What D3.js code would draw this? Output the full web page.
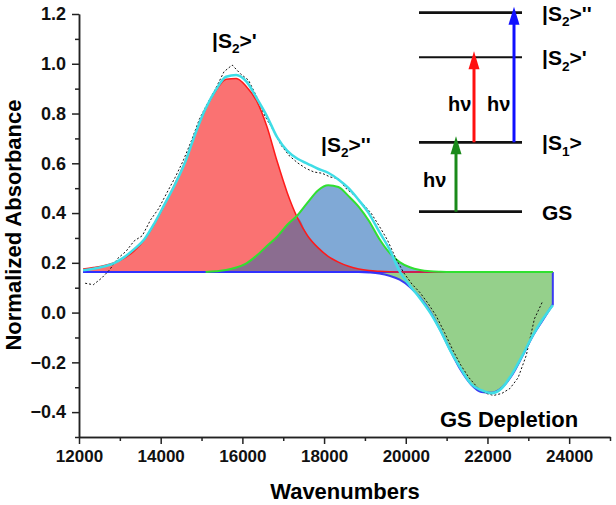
<!DOCTYPE html>
<html>
<head>
<meta charset="utf-8">
<script src="https://cdn.jsdelivr.net/npm/d3@7"></script>
<style>
  body { margin: 0; background: #fff; }
  text { font-family: 'Liberation Sans', Arial, sans-serif; font-weight: bold; }
</style>
</head>
<body>
<div id="chart"></div>
<script>
// fitted components, sampled every 250 cm-1 (values above the flat baseline)
const baseline = 0.163;
const fitWavenumbers = [
  12100, 12350, 12600, 12850, 13100, 13350, 13600, 13850, 14100, 14350, 14600, 14850,
  15100, 15350, 15600, 15850, 16100, 16350, 16600, 16850, 17100, 17350, 17600, 17850,
  18100, 18350, 18600, 18850, 19100, 19350, 19600, 19850, 20100, 20350, 20600, 20850,
  21100, 21350, 21600, 21850, 22100, 22350, 22600, 22850, 23100, 23350, 23600,
];
// |S2>' peak (red)
const peakS2a = [
  0.012, 0.018, 0.025, 0.036, 0.055, 0.085, 0.130, 0.195, 0.273, 0.355, 0.445, 0.558,
  0.655, 0.728, 0.775, 0.778, 0.745, 0.688, 0.585, 0.445, 0.318, 0.217, 0.145, 0.098,
  0.063, 0.040, 0.023, 0.012, 0.006, 0.003, 0.001, 0, 0, 0, 0, 0,
  0, 0, 0, 0, 0, 0, 0, 0, 0, 0, 0,
];
// |S2>'' peak (blue fill, green outline)
const peakS2b = [
  0, 0, 0, 0, 0, 0, 0, 0, 0, 0, 0, 0,
  0, 0.003, 0.008, 0.018, 0.035, 0.066, 0.105, 0.142, 0.190, 0.228, 0.280, 0.328,
  0.349, 0.342, 0.305, 0.262, 0.205, 0.134, 0.078, 0.040, 0.019, 0.008, 0.003, 0.001,
  0, 0, 0, 0, 0, 0, 0, 0, 0, 0, 0,
];
// ground state depletion (green fill, blue outline)
const gsDepletion = [
  0, 0, 0, 0, 0, 0, 0, 0, 0, 0, 0, 0,
  0, 0, 0, 0, 0, 0, 0, 0, 0, 0, 0, 0,
  0, 0, 0, 0, -0.002, -0.006, -0.015, -0.031, -0.060, -0.102, -0.160, -0.235,
  -0.318, -0.395, -0.452, -0.482, -0.485, -0.465, -0.415, -0.340, -0.260, -0.195, -0.130,
];
// cumulative fit (cyan)
const cumulativeFit = [
  0.170, 0.176, 0.185, 0.198, 0.222, 0.255, 0.295, 0.360, 0.437, 0.515, 0.605, 0.720,
  0.820, 0.895, 0.948, 0.955, 0.928, 0.862, 0.790, 0.705, 0.650, 0.618, 0.598, 0.578,
  0.562, 0.535, 0.500, 0.452, 0.398, 0.325, 0.255, 0.166, 0.108, 0.057, -0.001, -0.073,
  -0.156, -0.226, -0.287, -0.312, -0.324, -0.304, -0.247, -0.174, -0.095, -0.027, 0.030,
];

// measured spectrum, every 200 cm-1
const dataWavenumbers = [
  12150, 12350, 12550, 12750, 12950, 13150, 13350, 13550, 13750, 13950, 14150, 14350,
  14550, 14750, 14950, 15150, 15350, 15550, 15750, 15950, 16150, 16350, 16550, 16750,
  16950, 17150, 17350, 17550, 17750, 17950, 18150, 18350, 18550, 18750, 18950, 19150,
  19350, 19550, 19750, 19950, 20150, 20350, 20550, 20750, 20950, 21150, 21350, 21550,
  21750, 21950, 22150, 22350, 22550, 22750, 22950, 23150, 23350,
];
const dataAbsorbance = [
  0.118, 0.112, 0.138, 0.172, 0.218, 0.246, 0.288, 0.309, 0.372, 0.418, 0.481, 0.542,
  0.610, 0.690, 0.779, 0.842, 0.902, 0.968, 0.995, 0.960, 0.934, 0.868, 0.790, 0.735,
  0.672, 0.630, 0.602, 0.580, 0.565, 0.560, 0.545, 0.538, 0.497, 0.470, 0.437, 0.400,
  0.348, 0.292, 0.220, 0.160, 0.115, 0.080, 0.036, -0.015, -0.080, -0.150, -0.212, -0.262,
  -0.300, -0.324, -0.333, -0.325, -0.305, -0.262, -0.172, -0.025, 0.045,
];

const xMajorTicks = [12000, 14000, 16000, 18000, 20000, 22000, 24000];
const xMinorTicks = [13000, 15000, 17000, 19000, 21000, 23000, 25000];
const yMajorTicks = [-0.4, -0.2, 0.0, 0.2, 0.4, 0.6, 0.8, 1.0, 1.2];
const yMinorTicks = [-0.5, -0.3, -0.1, 0.1, 0.3, 0.5, 0.7, 0.9, 1.1];

// energy level inset
const levelNames = ['GS', '|S1>', "|S2>'", "|S2>''"];
const levelEnergies = [0, 1, 2.225, 2.868];
const transitions = [
  { from: 0, to: 1, color: '#1a8a1a' },
  { from: 1, to: 2, color: '#ff1010' },
  { from: 1, to: 3, color: '#1010ff' },
];

const size = { width: 616, height: 505 };
const svg = d3.select('#chart').append('svg')
  .attr('width', size.width).attr('height', size.height);

const x = d3.scaleLinear().domain([12000, 25000]).range([79, 610]);
const y = d3.scaleLinear().domain([-0.5, 1.2]).range([437, 14]);

const fit = fitWavenumbers.map((wn, i) => ({
  wn, red: peakS2a[i], blue: peakS2b[i], dep: gsDepletion[i], cum: cumulativeFit[i],
}));
const measured = dataWavenumbers.map((wn, i) => ({ wn, v: dataAbsorbance[i] }));

const curve = d3.curveMonotoneX;
const areaOf = (fn) => d3.area().curve(curve)
  .x((d) => x(d.wn)).y0(y(baseline)).y1((d) => y(baseline + fn(d)));
const lineOf = (fn) => d3.line().curve(curve)
  .x((d) => x(d.wn)).y((d) => y(baseline + fn(d)));

/* filled peaks */
const plot = svg.append('g');
plot.append('path').datum(fit).attr('d', areaOf((d) => d.dep)).attr('fill', '#95d08b');
plot.append('path').datum(fit).attr('d', areaOf((d) => d.blue)).attr('fill', '#80a9d6');
plot.append('path').datum(fit).attr('d', areaOf((d) => d.red)).attr('fill', '#fa7272');
plot.append('path').datum(fit).attr('d', areaOf((d) => Math.min(d.red, d.blue))).attr('fill', '#8b6d90');

// depletion outline, closed at the right end
const last = fit[fit.length - 1];
plot.append('path')
  .attr('d', `${lineOf((d) => d.dep)(fit)}L${x(last.wn)},${y(baseline)}`)
  .attr('fill', 'none').attr('stroke', '#3a3af2').attr('stroke-width', 2);

plot.append('line')
  .attr('x1', x(fit[0].wn)).attr('x2', x(last.wn))
  .attr('y1', y(baseline)).attr('y2', y(baseline))
  .attr('stroke', '#3030ff').attr('stroke-width', 2);

plot.append('path').datum(fit).attr('d', lineOf((d) => d.red))
  .attr('fill', 'none').attr('stroke', '#ff1a1a').attr('stroke-width', 1.5);

const firstBlue = fit.findIndex((d) => d.blue > 0) - 1;
plot.append('path').datum(fit.slice(firstBlue)).attr('d', lineOf((d) => d.blue))
  .attr('fill', 'none').attr('stroke', '#30e030').attr('stroke-width', 2);

// measured data
plot.append('path').datum(measured)
  .attr('d', d3.line().x((d) => x(d.wn)).y((d) => y(d.v)))
  .attr('fill', 'none').attr('stroke', '#111').attr('stroke-width', 1)
  .attr('stroke-dasharray', '2,2');

// cumulative fit
plot.append('path').datum(fit)
  .attr('d', d3.line().curve(curve).x((d) => x(d.wn)).y((d) => y(d.cum)))
  .attr('fill', 'none').attr('stroke', '#3fdde6').attr('stroke-width', 2.5);

/* axes */
const styleAxis = (g) => {
  g.selectAll('path, line').attr('stroke', '#222').attr('stroke-width', 1.5);
  g.selectAll('text').attr('fill', '#111').style('font-weight', 'bold');
};
svg.append('g').attr('transform', `translate(0,${y(-0.5)})`)
  .call(d3.axisBottom(x).tickValues(xMinorTicks).tickSize(4).tickSizeOuter(0).tickFormat(''))
  .call(styleAxis);
svg.append('g').attr('transform', `translate(0,${y(-0.5)})`)
  .call(d3.axisBottom(x).tickValues(xMajorTicks).tickSize(7).tickSizeOuter(0).tickPadding(6)
    .tickFormat(d3.format('d')))
  .call(styleAxis)
  .selectAll('text').style('font-size', '17px');
svg.append('g').attr('transform', `translate(${x(12000)},0)`)
  .call(d3.axisLeft(y).tickValues(yMinorTicks).tickSize(4).tickSizeOuter(0).tickFormat(''))
  .call(styleAxis);
svg.append('g').attr('transform', `translate(${x(12000)},0)`)
  .call(d3.axisLeft(y).tickValues(yMajorTicks).tickSize(7).tickSizeOuter(0).tickPadding(6)
    .tickFormat(d3.format('.1f')))
  .call(styleAxis)
  .selectAll('text').style('font-size', '18px');

svg.append('text').text('Wavenumbers')
  .attr('x', 345).attr('y', 499).attr('text-anchor', 'middle').attr('font-size', 22);
svg.append('text').text('Normalized Absorbance')
  .attr('transform', 'translate(21,225) rotate(-90)')
  .attr('text-anchor', 'middle').attr('font-size', 22);

/* labels with subscripts */
const stateLabel = (g, label, px, py, fs) => {
  const t = g.append('text').attr('x', px).attr('y', py).attr('font-size', fs);
  if (!label.startsWith('|S')) {
    t.text(label);
    return;
  }
  t.append('tspan').text('|S');
  t.append('tspan').text(label[2]).attr('font-size', fs * 0.65).attr('dy', fs * 0.25);
  t.append('tspan').text(label.slice(3)).attr('dy', -fs * 0.25);
};

stateLabel(svg, "|S2>'", 212, 48, 21);
stateLabel(svg, "|S2>''", 321, 152, 21);
svg.append('text').text('GS Depletion').attr('x', 440).attr('y', 427).attr('font-size', 22);

/* energy level inset */
const inset = svg.append('g');
const ey = d3.scaleLinear().domain([0, 2.868]).range([211.7, 12.7]);
levelNames.forEach((name, i) => {
  inset.append('line')
    .attr('x1', 419).attr('x2', 522)
    .attr('y1', ey(levelEnergies[i])).attr('y2', ey(levelEnergies[i]))
    .attr('stroke', '#111').attr('stroke-width', i === 2 ? 2 : 2.8);
  stateLabel(inset, name, 542, ey(levelEnergies[i]) + 8, 21);
});

const arrowX = [456, 474, 514];
const hvPos = [[423, 187], [448, 111], [487, 111]];
transitions.forEach((t, i) => {
  const x0 = arrowX[i];
  const yStart = ey(levelEnergies[t.from]);
  const yTip = ey(levelEnergies[t.to]) - 6;
  const head = 18;
  inset.append('line')
    .attr('x1', x0).attr('x2', x0)
    .attr('y1', yStart).attr('y2', yTip + head - 2)
    .attr('stroke', t.color).attr('stroke-width', 3);
  inset.append('path')
    .attr('d', `M${x0},${yTip} L${x0 - 5.5},${yTip + head} L${x0 + 5.5},${yTip + head} Z`)
    .attr('fill', t.color);
  inset.append('text').text('h\u03bd')
    .attr('x', hvPos[i][0]).attr('y', hvPos[i][1]).attr('font-size', 20);
});
</script>
</body>
</html>
